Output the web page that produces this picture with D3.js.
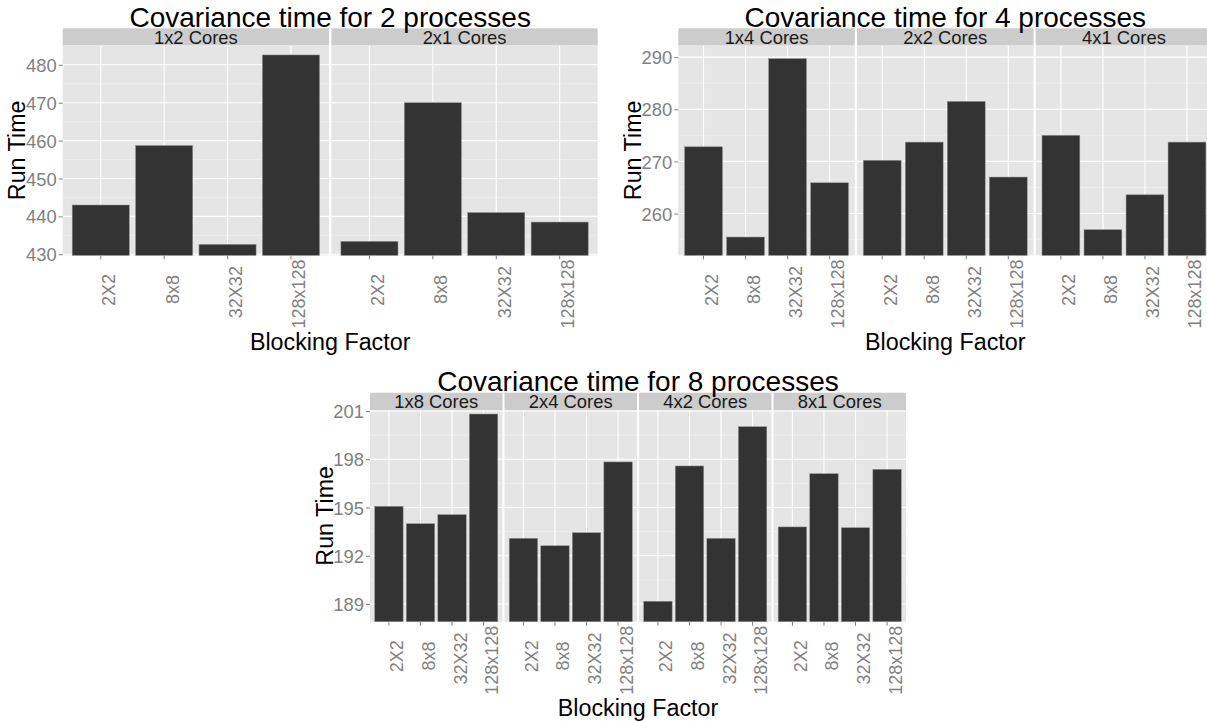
<!DOCTYPE html>
<html>
<head>
<meta charset="utf-8">
<script src="https://cdn.jsdelivr.net/npm/d3@7"></script>
<style>
  html, body { margin: 0; padding: 0; background: #ffffff; }
  svg { display: block; font-family: "Liberation Sans", Arial, sans-serif; }
</style>
</head>
<body>
<script>
// ---------------- data ----------------
const blockingFactors = ["2X2", "8x8", "32X32", "128x128"];

const cores2 = ["1x2 Cores", "2x1 Cores"];
const runTime2 = [
  [443.0, 458.7, 432.6, 482.6],
  [433.4, 470.0, 441.0, 438.5]
];
const yTicks2 = [430, 440, 450, 460, 470, 480];

const cores4 = ["1x4 Cores", "2x2 Cores", "4x1 Cores"];
const runTime4 = [
  [272.8, 255.5, 289.7, 265.9],
  [270.2, 273.7, 281.5, 267.0],
  [275.0, 256.9, 263.6, 273.7]
];
const yTicks4 = [260, 270, 280, 290];

const cores8 = ["1x8 Cores", "2x4 Cores", "4x2 Cores", "8x1 Cores"];
const runTime8 = [
  [195.07, 193.99, 194.55, 200.81],
  [193.08, 192.62, 193.43, 197.83],
  [189.17, 197.58, 193.08, 200.02],
  [193.79, 197.10, 193.74, 197.37]
];
const yTicks8 = [189, 192, 195, 198, 201];

const titles = ["Covariance time for 2 processes", "Covariance time for 4 processes", "Covariance time for 8 processes"];
const xTitle = "Blocking Factor";
const yTitle = "Run Time";

// ---------------- layout ----------------
const W = 1207, H = 721;
const svg = d3.select("body").append("svg").attr("width", W).attr("height", H);
svg.append("rect").attr("width", W).attr("height", H).attr("fill", "#ffffff");

const charts = [
  { cores: cores2, values: runTime2, ticks: yTicks2, title: titles[0],
    left: 62.7, panelW: 266.3, gap: 2.4, stripTop: 28.3, panelTop: 45.3, panelBottom: 255.4,
    domain: [429.7, 485.15] },
  { cores: cores4, values: runTime4, ticks: yTicks4, title: titles[1],
    left: 678.3, panelW: 176.5, gap: 2.2, stripTop: 28.3, panelTop: 45.3, panelBottom: 255.4,
    domain: [251.98, 292.26] },
  { cores: cores8, values: runTime8, ticks: yTicks8, title: titles[2],
    left: 370, panelW: 132.5, gap: 2.0, stripTop: 392.7, panelTop: 410, panelBottom: 621.7,
    domain: [187.9, 201.06] }
];

const GREY50 = "#7f7f7f";

charts.forEach(cfg => {
  const g = svg.append("g");
  const y = d3.scaleLinear().domain(cfg.domain).range([cfg.panelBottom, cfg.panelTop]);
  const x = d3.scaleBand().domain(blockingFactors).range([0, cfg.panelW])
    .paddingInner(0.1).paddingOuter(0.15);

  const step = cfg.ticks[1] - cfg.ticks[0];
  const minors = [];
  for (let v = cfg.ticks[0] - step / 2; v <= cfg.domain[1]; v += step) {
    if (v >= cfg.domain[0]) minors.push(v);
  }

  const n = cfg.cores.length;
  const totalW = n * cfg.panelW + (n - 1) * cfg.gap;

  cfg.cores.forEach((core, i) => {
    const px = cfg.left + i * (cfg.panelW + cfg.gap);
    const p = g.append("g").attr("transform", `translate(${px},0)`);

    // panel background
    p.append("rect")
      .attr("x", 0).attr("y", cfg.panelTop)
      .attr("width", cfg.panelW).attr("height", cfg.panelBottom - cfg.panelTop)
      .attr("fill", "#e5e5e5");

    // minor grid
    p.selectAll(".minor").data(minors).enter().append("line")
      .attr("x1", 0).attr("x2", cfg.panelW)
      .attr("y1", d => y(d)).attr("y2", d => y(d))
      .attr("stroke", "#f2f2f2").attr("stroke-width", 0.6);

    // major grid horizontal
    p.selectAll(".majorY").data(cfg.ticks).enter().append("line")
      .attr("x1", 0).attr("x2", cfg.panelW)
      .attr("y1", d => y(d)).attr("y2", d => y(d))
      .attr("stroke", "#ffffff").attr("stroke-width", 1.1);

    // major grid vertical
    p.selectAll(".majorX").data(blockingFactors).enter().append("line")
      .attr("x1", d => x(d) + x.bandwidth() / 2).attr("x2", d => x(d) + x.bandwidth() / 2)
      .attr("y1", cfg.panelTop).attr("y2", cfg.panelBottom)
      .attr("stroke", "#ffffff").attr("stroke-width", 1.1);

    // bars
    p.selectAll(".bar").data(cfg.values[i].map((v, k) => ({ b: blockingFactors[k], v })))
      .enter().append("rect")
      .attr("x", d => x(d.b))
      .attr("width", x.bandwidth())
      .attr("y", d => y(d.v))
      .attr("height", d => cfg.panelBottom - y(d.v))
      .attr("fill", "#333333")
      .attr("stroke", "#8c8c8c").attr("stroke-width", 0.5);

    // strip
    p.append("rect")
      .attr("x", 0).attr("y", cfg.stripTop)
      .attr("width", cfg.panelW).attr("height", cfg.panelTop - cfg.stripTop)
      .attr("fill", "#cccccc");
    p.append("text")
      .attr("x", cfg.panelW / 2).attr("y", cfg.panelTop - 1.6)
      .attr("text-anchor", "middle")
      .attr("font-size", "18.4px").attr("fill", "#1a1a1a")
      .text(core);

    // x axis
    const ax = p.append("g").attr("transform", `translate(0,${cfg.panelBottom})`)
      .call(d3.axisBottom(x).tickSize(4).tickPadding(2));
    ax.select(".domain").remove();
    ax.attr("font-family", null).attr("font-size", null);
    ax.selectAll(".tick line").attr("stroke", GREY50);
    ax.selectAll(".tick text")
      .attr("fill", GREY50).attr("font-size", "18px")
      .attr("y", null).attr("dy", null)
      .attr("text-anchor", "start")
      .each(function () {
        const w = this.getComputedTextLength();
        d3.select(this).attr("transform", `translate(14.5,${31 + 0.61 * w}) rotate(-90)`);
      });

    // y axis on first panel
    if (i === 0) {
      const ay = p.append("g")
        .call(d3.axisLeft(y).tickValues(cfg.ticks).tickSize(4).tickPadding(2).tickFormat(d3.format("d")));
      ay.select(".domain").remove();
      ay.attr("font-family", null).attr("font-size", null);
      ay.selectAll(".tick line").attr("stroke", GREY50);
      ay.selectAll(".tick text").attr("fill", GREY50).attr("font-size", "18.4px").attr("dy", "0.36em");
    }
  });

  const cx = cfg.left + totalW / 2;
  // title
  g.append("text")
    .attr("x", cx).attr("y", cfg.stripTop - 1.5)
    .attr("text-anchor", "middle")
    .attr("font-size", "28px").attr("fill", "#000")
    .text(cfg.title);

  // x title
  g.append("text")
    .attr("x", cx).attr("y", cfg.panelBottom + 94.5)
    .attr("text-anchor", "middle")
    .attr("font-size", "23.3px").attr("fill", "#000")
    .text(xTitle);

  // y title
  const cy = (cfg.panelTop + cfg.panelBottom) / 2;
  g.append("text")
    .attr("transform", `translate(${cfg.left - 37.3},${cy}) rotate(-90)`)
    .attr("text-anchor", "middle")
    .attr("font-size", "23.3px").attr("fill", "#000")
    .text(yTitle);
});
</script>
</body>
</html>
